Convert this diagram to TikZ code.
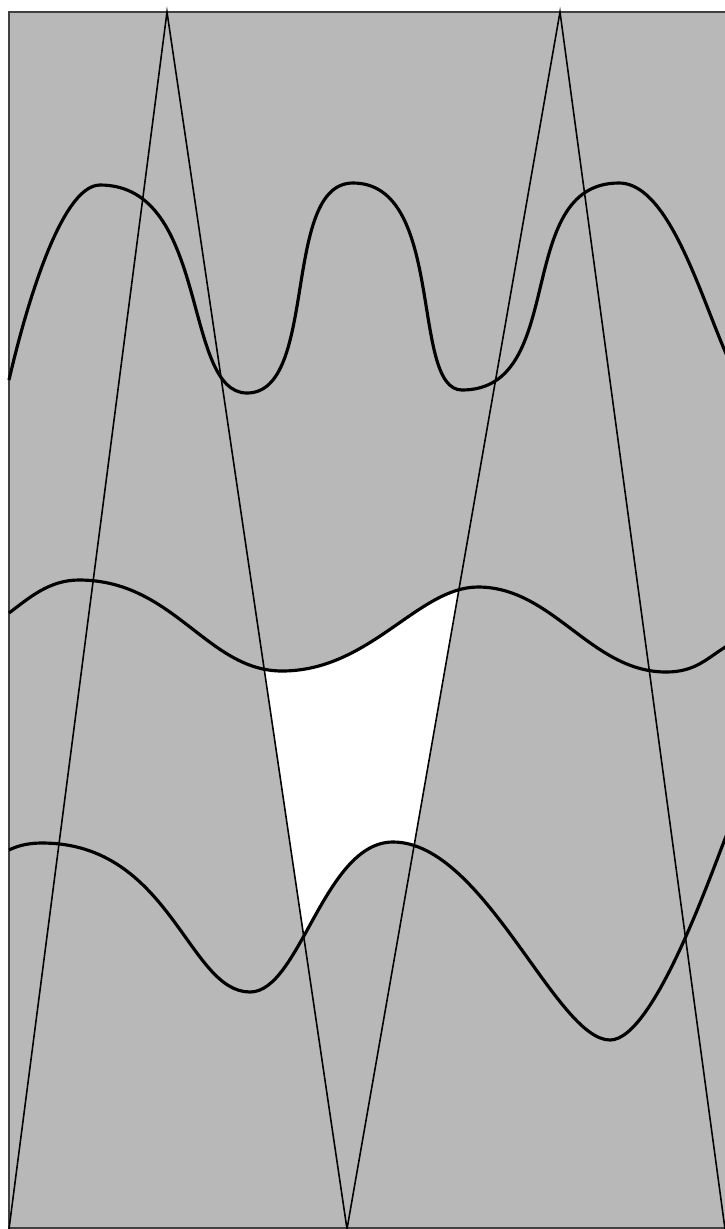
\documentclass[tikz,border=0pt]{standalone}
\usepackage{tikz}
\usetikzlibrary{calc}

% wave paths (pixel units, y downwards)
\newcommand{\topwavepath}{(9,380)
    .. controls +(15,-65) and +(-40,0) .. (100,185)
    .. controls +(110,0) and +(-65,0) .. (247,393)
    .. controls +(72,0) and +(-72,0) .. (353,183)
    .. controls +(93,0) and +(-52,0) .. (462,390)
    .. controls +(107,0) and +(-107,0) .. (619,183)
    .. controls +(68,0) and +(-34,0) .. (755,393)}
\newcommand{\midwavepath}{(9,613)
    .. controls +(20,-15) and +(-30,0) .. (79,580)
    .. controls +(95,0) and +(-75,0) .. (282,671)
    .. controls +(88,0) and +(-60,0) .. (478,587)
    .. controls +(75,0) and +(-75,0) .. (666,672)
    .. controls +(30,0) and +(-20,12) .. (727,646)}
\newcommand{\lowwavepath}{(9,850)
    .. controls +(10,-5) and +(-12,0) .. (42,843)
    .. controls +(129,0) and +(-62,0) .. (250,992)
    .. controls +(50,0) and +(-69,0) .. (393,842)
    .. controls +(91,0) and +(-54,0) .. (610,1040)
    .. controls +(45,0) and +(-12,28) .. (727,834)}

\begin{document}
\begin{tikzpicture}[
    x=0.01cm, y=-0.01cm,
    field/.style={fill=black!28, draw=black!75, line width=0.6pt},
    zig/.style={line width=0.45pt, line join=miter},
    wave/.style={line width=0.9pt}
]
\clip (0,0) rectangle (725,1229);

% -- GRAY FIELD --
\path[field] (9,12) rectangle (735,1228);

% -- ZIGZAG VERTICES --
\coordinate (b0) at (9,1229);
\coordinate (t1) at (167,12);
\coordinate (b1) at (347,1229);
\coordinate (t2) at (560,12);
\coordinate (b2) at (725,1229);

% -- WHITE CELL (between middle and lower wave, inside the V) --
\begin{scope}
    \clip (t1) -- (b1) -- (t2) -- cycle;
    \clip \midwavepath -- (727,1229) -- (9,1229) -- cycle;
    \clip \lowwavepath -- (727,12) -- (9,12) -- cycle;
    \fill[white] (0,0) rectangle (725,1229);
\end{scope}

% -- ZIGZAG --
\draw[zig] (b0) -- (t1) -- (b1) -- (t2) -- (b2);

% -- WAVES --
\draw[wave] \topwavepath;
\draw[wave] \midwavepath;
\draw[wave] \lowwavepath;

\end{tikzpicture}
\end{document}
